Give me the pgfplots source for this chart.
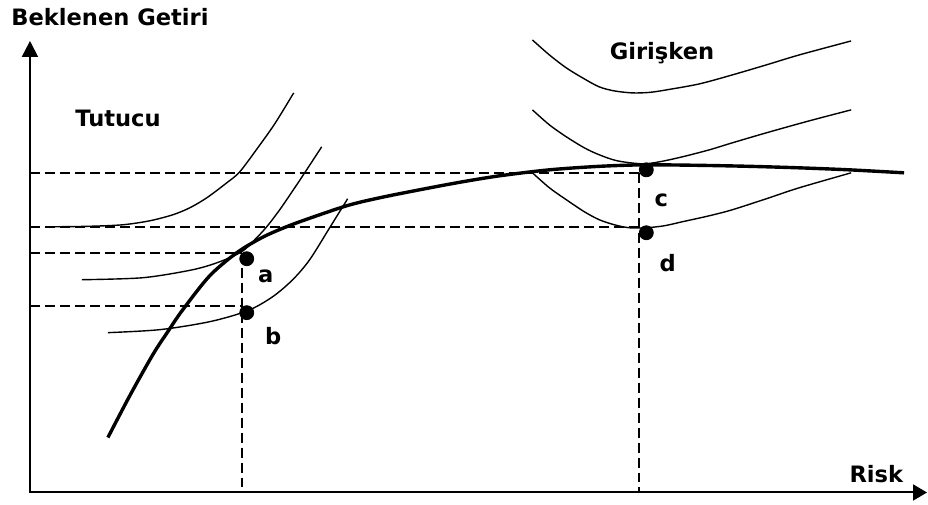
\documentclass[border=0pt]{standalone}
\usepackage{pgfplots}
\pgfplotsset{compat=1.18}
\usetikzlibrary{arrows.meta}
\usepackage{fontspec}
\setmainfont{DejaVu Sans}

\tikzset{lbl/.style={font=\fontsize{11.3}{13}\selectfont\bfseries, inner sep=0pt, anchor=base west}}

\begin{document}
\begin{tikzpicture}
\begin{axis}[
  width=464pt, height=252.5pt, scale only axis,
  xmin=0, xmax=928, ymin=0, ymax=505,
  y dir=reverse,
  axis lines=none,
  clip=false,
]
% frame of the drawing area
\addplot[draw=none] coordinates {(0,0) (928,505)};

% axes
\addplot[line width=1pt, -{Triangle[length=8pt,width=8pt]}] coordinates {(30,493) (30,41)};
\addplot[line width=1pt, -{Triangle[length=7pt,width=8pt]}] coordinates {(29,493) (928,493)};

% guide lines
\pgfplotsset{guide/.style={line width=1.1pt, dash pattern=on 5pt off 2.5pt}}
\addplot[guide] coordinates {(30,173) (640,173)};
\addplot[guide] coordinates {(30,227) (640,227)};
\addplot[guide] coordinates {(30,253) (242,253)};
\addplot[guide] coordinates {(30,306) (242,306)};
\addplot[guide] coordinates {(242,253) (242,493)};
\addplot[guide] coordinates {(640,173) (640,493)};

% efficient frontier
\addplot[line width=1.7pt, smooth] coordinates {
  (108,438) (130,396) (153,355) (168,332) (183,310) (210,276) (237,253)
  (260,239) (277,231) (300,222) (347,206) (380,198) (420,190) (460,182.5)
  (500,176) (550,170) (600,166.5) (645,165) (700,165.5) (750,166.5) (800,168)
  (850,170) (905,173)};

% conservative investor indifference curves
\pgfplotsset{ind/.style={line width=0.7pt, smooth}}
\addplot[ind] coordinates {
  (55,227) (90,226.5) (123,225) (150,221) (173,215) (190,208) (207,198)
  (227,183) (240,172) (258,148) (275,124) (294,93)};
\addplot[ind] coordinates {
  (82,280) (143,278) (193,270) (220,262) (242,252) (255,240) (267,227)
  (280,210) (293,191) (305,173) (322,147)};
\addplot[ind] coordinates {
  (108,333) (160,330) (210,322) (248,311) (273,297) (293,280) (310,260)
  (330,228) (348,199)};

% risk-taking investor indifference curves
\addplot[ind] coordinates {
  (533,40) (550,55) (567,68) (585,79) (600,87) (615,91) (633,93) (650,92.5)
  (667,90) (700,84) (733,75) (767,65) (800,55) (852,41)};
\addplot[ind] coordinates {
  (533,110) (550,125) (567,137) (585,148) (600,155) (618,161) (643,164)
  (660,162) (683,157) (710,150) (733,143) (767,133) (810,121) (852,110)};
\addplot[ind] coordinates {
  (533,173) (550,188) (567,200) (585,212) (600,220) (615,225) (630,228)
  (647,228) (665,226) (683,222) (710,216) (733,210) (767,199) (800,188)
  (852,173)};

% points of tangency
\addplot[only marks, mark=*, mark size=3.5pt, black] coordinates {
  (247,259) (247,313) (647,170) (647,233)};

% labels
\node[lbl] at (axis cs:11,26) {Beklenen Getiri};
\node[lbl] at (axis cs:75,127) {Tutucu};
\node[lbl] at (axis cs:610,60) {Girişken};
\node[lbl] at (axis cs:850,483) {Risk};
\node[lbl] at (axis cs:258,283) {a};
\node[lbl] at (axis cs:265,345) {b};
\node[lbl] at (axis cs:655,207) {c};
\node[lbl] at (axis cs:660,272) {d};
\end{axis}
\end{tikzpicture}
\end{document}
